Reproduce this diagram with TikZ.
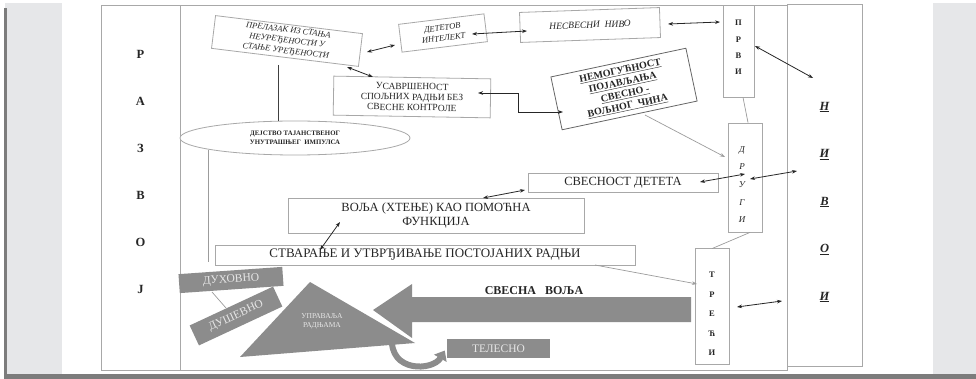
\documentclass[tikz,border=0pt]{standalone}
\usepackage{fontspec}
\setmainfont{Liberation Serif}
\usetikzlibrary{arrows.meta,calc,shapes.geometric}
\definecolor{bd}{HTML}{A8A8A8}
\definecolor{txt}{HTML}{262626}
\definecolor{gfill}{HTML}{8C8C8C}
\definecolor{gtxt}{HTML}{E6E6E6}
\definecolor{gln}{HTML}{9C9C9C}
\definecolor{bgL}{HTML}{E6E7E9}
\definecolor{dk}{HTML}{7C7C7C}
\begin{document}
\begin{tikzpicture}[x=1pt,y=-1pt,
  box/.style={draw=bd, line width=0.8pt, fill=white, inner sep=1pt, align=center, text=txt},
  gbox/.style={fill=gfill, text=gtxt, inner sep=1pt, align=center},
  lbl/.style={text=txt, align=center, inner sep=0pt},
  dbl/.style={{Stealth[length=5pt,width=3.6pt]}-{Stealth[length=5pt,width=3.6pt]}, line width=0.8pt, draw=black!85},
  garr/.style={-{Stealth[length=5pt,width=3.6pt]}, line width=0.7pt, draw=gln},
  gl/.style={line width=0.7pt, draw=gln},
  dl/.style={line width=0.9pt, draw=black!75}]
\useasboundingbox (0,0) rectangle (976,379);
% background
\fill[white] (0,0) rectangle (976,379);
\fill[bgL] (5,3) rectangle (62,376);
\fill[bgL] (933,3) rectangle (976,376);
\fill[dk] (4,8) rectangle (7,379);
\fill[dk] (4,374) rectangle (976,379);
% frames
\draw[bd, line width=0.8pt] (101,5) rectangle (787,370);
\node[box, minimum width=79pt, minimum height=365pt] (razvoj) at (140.5,187.5) {};
\node[box, minimum width=75pt, minimum height=362pt] (nivoi) at (824.5,185) {};
\node[box, minimum width=31pt, minimum height=92pt] (prvi) at (738.5,51) {};
\node[box, minimum width=34pt, minimum height=109pt] (drugi) at (745,177.5) {};
\node[box, minimum width=34pt, minimum height=116pt] (treci) at (712,306) {};
% column letters
\node[lbl, font=\fontsize{12.5}{47}\selectfont\bfseries] (razvojt) at (140.5,172) {Р\\А\\З\\В\\О\\Ј};
\node[lbl, font=\fontsize{12.5}{47.5}\selectfont\bfseries\itshape] (nivoit) at (824.5,202) {\underline{Н}\\\underline{И}\\\underline{В}\\\underline{О}\\\underline{И}};
\node[lbl, font=\fontsize{8.5}{16.3}\selectfont\bfseries] (prvit) at (738.5,47.5) {П\\Р\\В\\И};
\node[lbl, font=\fontsize{9}{17.7}\selectfont\itshape] (drugit) at (742,184.5) {Д\\Р\\У\\Г\\И};
\node[lbl, font=\fontsize{8.5}{19.5}\selectfont\bfseries] (trecit) at (712,314) {Т\\Р\\Е\\Ћ\\И};
% boxes
\node[box, rotate=-7, minimum width=148pt, minimum height=33pt, inner sep=0pt, font=\fontsize{8.5}{10.5}\selectfont\itshape] (prelaz) at (287,41) {ПРЕЛАЗАК ИЗ СТАЊА\\НЕУРЕЂЕНОСТИ У\\СТАЊЕ УРЕЂЕНОСТИ};
\node[box, rotate=7, minimum width=86pt, minimum height=28pt, font=\fontsize{8.5}{10.5}\selectfont\itshape] (detint) at (443,33) {ДЕТЕТОВ\\ИНТЕЛЕКТ};
\node[box, rotate=2, minimum width=140pt, minimum height=30pt, font=\fontsize{9.5}{10}\selectfont\itshape] (nesv) at (590,25) {НЕСВЕСНИ~~НИВО};
\node[box, rotate=-1, minimum width=157pt, minimum height=39pt, inner sep=0pt, font=\fontsize{9.5}{10.5}\selectfont] (usavr) at (412,97) {УСАВРШЕНОСТ\\СПОЉНИХ РАДЊИ БЕЗ\\СВЕСНЕ КОНТРОЛЕ};
\node[box, draw=black!60, rotate=12, minimum width=138pt, minimum height=54pt, inner sep=0pt, font=\fontsize{10}{12}\selectfont\bfseries] (nemog) at (624,89) {\underline{НЕМОГУЋНОСТ}\\\underline{ПОЈАВЉАЊА}\\\underline{СВЕСНО -}\\\underline{ВОЉНОГ~ ЧИНА}};
\node[box, ellipse, minimum width=230pt, minimum height=34pt, inner sep=0pt, font=\fontsize{6.8}{9}\selectfont\bfseries] (ell) at (295,138) {ДЕЈСТВО ТАЈАНСТВЕНОГ\\УНУТРАШЊЕГ~ ИМПУЛСА};
\node[box, minimum width=190pt, minimum height=19pt, font=\fontsize{12.5}{13}\selectfont] (svest) at (623,182.5) {СВЕСНОСТ ДЕТЕТА};
\node[box, minimum width=296pt, minimum height=35pt, font=\fontsize{12.5}{14}\selectfont] (volja) at (436,215.5) {ВОЉА (ХТЕЊЕ) КАО ПОМОЋНА\\ФУНКЦИЈА};
\node[box, minimum width=420pt, minimum height=20pt, font=\fontsize{13}{13}\selectfont] (stvar) at (425,255) {СТВАРАЊЕ И УТВРЂИВАЊЕ ПОСТОЈАНИХ РАДЊИ};
% grey shapes
\fill[gfill] (373,310) -- (412,284) -- (412,297) -- (691,297) -- (691,322) -- (412,322) -- (412,338) -- cycle;
\node[lbl, font=\fontsize{12}{12}\selectfont\bfseries] (svvolja) at (534,291) {СВЕСНА~~~ВОЉА};
\coordinate (tritop) at (310,282);
\coordinate (tribl) at (240,357);
\coordinate (tribr) at (415,343);
\fill[gfill] (tritop) -- (tribl) -- (tribr) -- cycle;
\node[lbl, text=gtxt, font=\fontsize{7.5}{9}\selectfont] (upr) at (322,321) {УПРАВАЉА\\РАДЊАМА};
\node[gbox, rotate=4, minimum width=104pt, minimum height=19pt, font=\fontsize{11.5}{12}\selectfont] (duh) at (231,280) {ДУХОВНО};
\node[gbox, rotate=25, minimum width=92pt, minimum height=22pt, font=\fontsize{11.5}{12}\selectfont] (dus) at (236,316) {ДУШЕВНО};
\node[gbox, minimum width=103pt, minimum height=19pt, font=\fontsize{11.5}{12}\selectfont] (telesno) at (498.5,348.5) {ТЕЛЕСНО};
\draw[gfill, line width=6pt, -{Triangle[length=9pt,width=14pt]}] ($(tribr)+(-23,-6)$) .. controls ($(tribr)+(-26,30)$) and ($(tribr)+(18,28)$) .. ($(telesno.west)+(-2,2)$);
% connectors
\draw[dbl] ($(prelaz.center)+(80,11)$) -- ($(detint.center)+(-48,12)$);
\draw[dbl] ($(detint.center)+(29,1)$) -- ($(nesv.center)+(-63,6)$);
\draw[dbl] ($(nesv.center)+(78,-1)$) -- ($(prvi.center)+(-18.5,-29)$);
\draw[dbl] ($(prvi.center)+(16.5,-5)$) -- ($(nivoi.center)+(-11.5,-107)$);
\draw[dbl] ($(prelaz.center)+(60,26)$) -- ($(usavr.center)+(-39,-20)$);
\draw[dbl] ($(usavr.center)+(66,-4)$) -- ++(40,0) |- ($(nemog.center)+(-61,23)$);
\draw[garr] ($(nemog.center)+(21,26)$) -- ($(drugi.center)+(-20,-20.5)$);
\draw[gl] ($(prvi.south)+(4.5,0)$) -- ($(drugi.north)+(3,0)$);
\draw[dbl] ($(svest.center)+(77,-0.5)$) -- ($(drugi.center)+(0,-3.5)$);
\draw[dbl] ($(drugi.center)+(5,1.5)$) -- ($(nivoi.center)+(-27.5,-14)$);
\draw[dbl] ($(volja.center)+(47,-17.5)$) -- ($(svest.center)+(-98,7.5)$);
\draw[dbl] ($(volja.center)+(-96,6.5)$) -- ($(stvar.center)+(-105,-5)$);
\draw[gl] ($(drugi.south)+(5,0)$) -- ($(treci.north)+(0,1)$);
\draw[garr] ($(stvar.center)+(170,10)$) -- ($(treci.center)+(-15,-22)$);
\draw[dbl] ($(treci.center)+(25,1)$) -- ($(nivoi.center)+(-42.5,116)$);
\draw[gl] ($(duh.center)+(-19,12)$) -- ($(dus.center)+(-10,-8)$);
\draw[dl] ($(prelaz.center)+(-9,24)$) -- ($(ell.north)+(-17,0)$);
\coordinate (vend) at (208,262);
\draw[gl] ($(ell.center)+(-87,12)$) -- (vend);
\end{tikzpicture}
\end{document}
